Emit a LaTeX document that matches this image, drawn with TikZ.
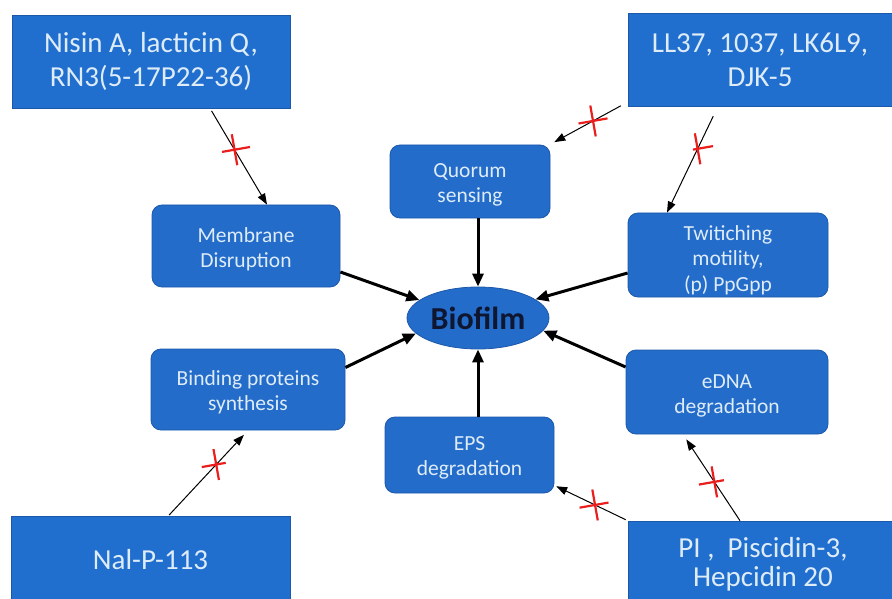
\documentclass[tikz,border=0pt]{standalone}
\usepackage{fontspec}
\setmainfont{Carlito}
\usetikzlibrary{arrows.meta,shapes.geometric,shapes.misc,calc}
\definecolor{boxblue}{RGB}{32,110,206}
\definecolor{rndblue}{RGB}{36,108,202}
\definecolor{rndedge}{RGB}{28,88,170}
\definecolor{txtlight}{RGB}{222,236,248}
\definecolor{navy}{RGB}{14,22,48}
\definecolor{xred}{RGB}{235,30,30}
\newcommand{\mylines}[2][-4bp]{\raisebox{#1}[\height][\depth]{\begin{tabular}{@{}c@{}}#2\end{tabular}}}
\tikzset{
  bigbox/.style={rectangle, fill=boxblue, draw=rndedge, line width=0.6bp, inner sep=0pt, align=center,
    text=txtlight, font=\fontsize{29bp}{34bp}\selectfont},
  rndbox/.style={rectangle, rounded corners=10bp, fill=rndblue, draw=rndedge, line width=0.8bp, inner sep=0pt,
    text=txtlight, font=\fontsize{21.5bp}{25bp}\selectfont},
  thick arrow/.style={line width=3bp, -{Triangle[length=13bp,width=11bp]}},
  thin arrow/.style={line width=1bp, -{Triangle[length=11bp,width=8bp]}},
  xmark/.style={cross out, draw=xred, line width=2.2bp, minimum width=20bp, minimum height=20bp, inner sep=0pt, rotate=55}
}
\begin{document}
\begin{tikzpicture}[x=1bp,y=-1bp]
\useasboundingbox (0,0) rectangle (892,599);
\clip (0,0) rectangle (892,599);
% big boxes
\node[bigbox, minimum width=278bp, minimum height=93bp] (nisin) at (151,61.5) {Nisin A, lacticin Q,\\RN3(5-17P22-36)};
\node[bigbox, minimum width=264bp, minimum height=93bp] (ll37) at (760,59.5) {LL37, 1037, LK6L9,\\DJK-5};
\node[bigbox, minimum width=279bp, minimum height=94bp] (nalp) at (150.5,563) {\raisebox{3bp}[\height][\depth]{Nal-P-113}};
\node[bigbox, minimum width=270bp, minimum height=94bp] (pi) at (763,568) {\raisebox{4bp}[\height][\depth]{\shortstack{PI ,\ \ Piscidin-3,\\[2bp]Hepcidin 20}}};
% rounded boxes
\node[rndbox, minimum width=160bp, minimum height=73bp] (quorum) at (470,181.5) {\mylines{Quorum\\sensing}};
\node[rndbox, minimum width=188bp, minimum height=82bp] (memb) at (246,246) {\mylines{Membrane\\Disruption}};
\node[rndbox, minimum width=200bp, minimum height=84bp] (twitch) at (728,255) {\mylines[-6bp]{Twitiching\\motility,\\(p) PpGpp}};
\node[rndbox, minimum width=194bp, minimum height=81bp] (bind) at (248,389.5) {\mylines[-3bp]{Binding proteins\\synthesis}};
\node[rndbox, minimum width=202bp, minimum height=84bp] (edna) at (727,392) {\mylines{eDNA\\degradation}};
\node[rndbox, minimum width=169bp, minimum height=76bp] (eps) at (469.5,455) {\mylines[-3bp]{EPS\\degradation}};
% biofilm
\node[ellipse, fill=rndblue, draw=rndedge, line width=0.8bp, minimum width=142bp, minimum height=62bp, inner sep=0pt,
  text=navy, font=\fontsize{32bp}{34bp}\selectfont\bfseries] (bio) at (478,318) {Biofilm};
% thick arrows to biofilm
\draw[thick arrow] (quorum.south -| bio.north) -- (bio.north);
\draw[thick arrow] (eps.north -| bio.south) -- (bio.south);
\draw[thick arrow] ([yshift=-26bp]memb.east) -- (bio.163);
\draw[thick arrow] ([yshift=-18bp]twitch.west) -- (bio.18);
\draw[thick arrow] ([yshift=22bp]bind.east) -- (bio.194);
\draw[thick arrow] ([yshift=25bp]edna.west) -- (bio.349);
% thin inhibited arrows
\draw[thin arrow, shorten <=3bp] ([xshift=59bp]nisin.south) -- node[xmark, pos=0.43] (x1) {} ([xshift=21bp]memb.north);
\draw[thin arrow, shorten <=1bp, shorten >=1bp] ([xshift=-6bp,yshift=1bp]ll37.south west) -- node[xmark, pos=0.42] (x2) {} ([xshift=3bp,yshift=2bp]quorum.north east);
\draw[thin arrow, shorten <=11bp] ([xshift=-42bp]ll37.south) -- node[xmark, pos=0.4] (x3) {} ([xshift=-61bp]twitch.north);
\draw[thin arrow, shorten <=1bp, shorten >=6bp] ([xshift=18bp]nalp.north) -- node[xmark, pos=0.6] (x4) {} ([xshift=0bp]bind.south);
\draw[thin arrow, shorten >=2bp] ([xshift=-2bp,yshift=1bp]pi.north west) -- node[xmark, pos=0.43] (x5) {} ([yshift=8bp]eps.south east);
\draw[thin arrow, shorten >=6bp] ([xshift=-23bp]pi.north) -- node[xmark, pos=0.45] (x6) {} ([xshift=-44bp]edna.south);
\end{tikzpicture}
\end{document}
